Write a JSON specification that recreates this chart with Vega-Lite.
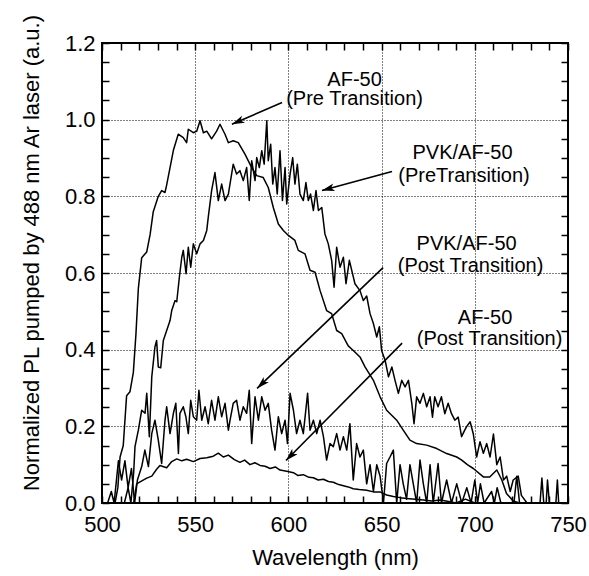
{
  "$schema": "https://vega.github.io/schema/vega-lite/v6.json",
  "width": 466,
  "height": 460,
  "autosize": "none",
  "padding": {"left": 102, "top": 43, "right": 21, "bottom": 73},
  "background": "white",
  "config": {
    "view": {"stroke": "black", "strokeWidth": 2},
    "font": "Liberation Sans",
    "axis": {
      "domain": false,
      "labelFont": "Liberation Sans",
      "labelFontSize": 22,
      "labelColor": "black",
      "titleFont": "Liberation Sans",
      "titleFontSize": 22,
      "titleFontWeight": "normal",
      "titleColor": "black",
      "tickColor": "black",
      "tickWidth": 1.5,
      "gridColor": "black",
      "gridDash": [1, 2],
      "gridWidth": 1
    }
  },
  "datasets": {
    "curves": [
      {"s":"a","wl":505,"v":0},{"s":"a","wl":507,"v":0.0},{"s":"a","wl":508.5,"v":0.04},{"s":"a","wl":509.7,"v":0.12},{"s":"a","wl":511.4,"v":0.15},{"s":"a","wl":513.2,"v":0.28},{"s":"a","wl":515,"v":0.29},{"s":"a","wl":516.8,"v":0.34},{"s":"a","wl":518.2,"v":0.44},{"s":"a","wl":519.5,"v":0.56},{"s":"a","wl":521.3,"v":0.64},{"s":"a","wl":524,"v":0.655},{"s":"a","wl":525.8,"v":0.70},{"s":"a","wl":527.5,"v":0.76},{"s":"a","wl":530.2,"v":0.80},{"s":"a","wl":532,"v":0.815},{"s":"a","wl":533.8,"v":0.81},{"s":"a","wl":534.7,"v":0.83},{"s":"a","wl":536.5,"v":0.875},{"s":"a","wl":538.3,"v":0.92},{"s":"a","wl":540.9,"v":0.962},{"s":"a","wl":543.6,"v":0.953},{"s":"a","wl":545.4,"v":0.94},{"s":"a","wl":546.3,"v":0.975},{"s":"a","wl":549,"v":0.966},{"s":"a","wl":550.8,"v":0.97},{"s":"a","wl":552.6,"v":0.997},{"s":"a","wl":554.4,"v":0.966},{"s":"a","wl":556.2,"v":0.97},{"s":"a","wl":558.8,"v":0.95},{"s":"a","wl":561.5,"v":0.97},{"s":"a","wl":563.3,"v":0.988},{"s":"a","wl":566,"v":0.962},{"s":"a","wl":567.8,"v":0.94},{"s":"a","wl":570.4,"v":0.945},{"s":"a","wl":573.1,"v":0.94},{"s":"a","wl":576.7,"v":0.91},{"s":"a","wl":580.3,"v":0.875},{"s":"a","wl":583,"v":0.854},{"s":"a","wl":586.5,"v":0.849},{"s":"a","wl":589.2,"v":0.823},{"s":"a","wl":591.9,"v":0.771},{"s":"a","wl":594.6,"v":0.728},{"s":"a","wl":597.3,"v":0.711},{"s":"a","wl":600,"v":0.698},{"s":"a","wl":603.5,"v":0.685},{"s":"a","wl":605.3,"v":0.659},{"s":"a","wl":608.9,"v":0.65},{"s":"a","wl":611.6,"v":0.607},{"s":"a","wl":614.3,"v":0.602},{"s":"a","wl":617,"v":0.554},{"s":"a","wl":620.5,"v":0.502},{"s":"a","wl":623.2,"v":0.494},{"s":"a","wl":625.9,"v":0.45},{"s":"a","wl":628.6,"v":0.442},{"s":"a","wl":632.1,"v":0.41},{"s":"a","wl":634.8,"v":0.398},{"s":"a","wl":638.4,"v":0.381},{"s":"a","wl":641.1,"v":0.355},{"s":"a","wl":645.6,"v":0.32},{"s":"a","wl":649.2,"v":0.277},{"s":"a","wl":652.7,"v":0.242},{"s":"a","wl":658.1,"v":0.216},{"s":"a","wl":661.6,"v":0.19},{"s":"a","wl":665.2,"v":0.164},{"s":"a","wl":668.8,"v":0.155},{"s":"a","wl":674.2,"v":0.151},{"s":"a","wl":679.6,"v":0.142},{"s":"a","wl":684.9,"v":0.129},{"s":"a","wl":690.3,"v":0.12},{"s":"a","wl":693,"v":0.112},{"s":"a","wl":696,"v":0.1},{"s":"a","wl":699.2,"v":0.09},{"s":"a","wl":704.6,"v":0.068},{"s":"a","wl":708,"v":0.068},{"s":"a","wl":711.8,"v":0.086},{"s":"a","wl":714.5,"v":0.06},{"s":"a","wl":717,"v":0.025},{"s":"a","wl":720.6,"v":0.005},{"s":"a","wl":724,"v":0.0},
      {"s":"b","wl":512,"v":0},{"s":"b","wl":514,"v":0.04},{"s":"b","wl":515.5,"v":0.0},{"s":"b","wl":517,"v":0.08},{"s":"b","wl":517.7,"v":0.147},{"s":"b","wl":519.5,"v":0.19},{"s":"b","wl":521.3,"v":0.242},{"s":"b","wl":523.1,"v":0.234},{"s":"b","wl":524,"v":0.286},{"s":"b","wl":525.4,"v":0.173},{"s":"b","wl":526.7,"v":0.329},{"s":"b","wl":528.4,"v":0.407},{"s":"b","wl":529.3,"v":0.424},{"s":"b","wl":530.2,"v":0.355},{"s":"b","wl":531.5,"v":0.353},{"s":"b","wl":532.9,"v":0.424},{"s":"b","wl":534.7,"v":0.45},{"s":"b","wl":536.5,"v":0.476},{"s":"b","wl":537.4,"v":0.502},{"s":"b","wl":539.2,"v":0.528},{"s":"b","wl":540.1,"v":0.525},{"s":"b","wl":541.5,"v":0.589},{"s":"b","wl":542.8,"v":0.641},{"s":"b","wl":543.6,"v":0.659},{"s":"b","wl":545.1,"v":0.598},{"s":"b","wl":546.3,"v":0.667},{"s":"b","wl":547.6,"v":0.615},{"s":"b","wl":549,"v":0.676},{"s":"b","wl":550.8,"v":0.65},{"s":"b","wl":552.6,"v":0.676},{"s":"b","wl":554.4,"v":0.685},{"s":"b","wl":556.2,"v":0.711},{"s":"b","wl":557,"v":0.745},{"s":"b","wl":558.8,"v":0.815},{"s":"b","wl":560.6,"v":0.862},{"s":"b","wl":562.4,"v":0.789},{"s":"b","wl":564.2,"v":0.832},{"s":"b","wl":566,"v":0.789},{"s":"b","wl":567.8,"v":0.806},{"s":"b","wl":570.4,"v":0.884},{"s":"b","wl":572.2,"v":0.858},{"s":"b","wl":574,"v":0.867},{"s":"b","wl":575.8,"v":0.841},{"s":"b","wl":577.6,"v":0.875},{"s":"b","wl":579,"v":0.789},{"s":"b","wl":580.3,"v":0.893},{"s":"b","wl":582.1,"v":0.841},{"s":"b","wl":583,"v":0.901},{"s":"b","wl":584.4,"v":0.875},{"s":"b","wl":585.7,"v":0.919},{"s":"b","wl":587,"v":0.884},{"s":"b","wl":588.4,"v":0.997},{"s":"b","wl":589.2,"v":0.893},{"s":"b","wl":590.5,"v":0.936},{"s":"b","wl":591.6,"v":0.832},{"s":"b","wl":592.8,"v":0.875},{"s":"b","wl":594,"v":0.806},{"s":"b","wl":595.5,"v":0.919},{"s":"b","wl":596.8,"v":0.789},{"s":"b","wl":598.2,"v":0.875},{"s":"b","wl":599.1,"v":0.78},{"s":"b","wl":600.9,"v":0.858},{"s":"b","wl":602.3,"v":0.901},{"s":"b","wl":603.5,"v":0.832},{"s":"b","wl":604.8,"v":0.884},{"s":"b","wl":606.2,"v":0.806},{"s":"b","wl":608,"v":0.789},{"s":"b","wl":609.4,"v":0.836},{"s":"b","wl":610.7,"v":0.789},{"s":"b","wl":611.9,"v":0.806},{"s":"b","wl":613.4,"v":0.763},{"s":"b","wl":614.8,"v":0.815},{"s":"b","wl":616.1,"v":0.763},{"s":"b","wl":617.9,"v":0.771},{"s":"b","wl":619.6,"v":0.702},{"s":"b","wl":621.4,"v":0.676},{"s":"b","wl":623.2,"v":0.633},{"s":"b","wl":624.5,"v":0.563},{"s":"b","wl":625.9,"v":0.667},{"s":"b","wl":627.7,"v":0.615},{"s":"b","wl":629.5,"v":0.641},{"s":"b","wl":630.9,"v":0.572},{"s":"b","wl":632.7,"v":0.633},{"s":"b","wl":635.7,"v":0.572},{"s":"b","wl":638.4,"v":0.554},{"s":"b","wl":640.2,"v":0.528},{"s":"b","wl":642,"v":0.54},{"s":"b","wl":643.8,"v":0.494},{"s":"b","wl":645.6,"v":0.468},{"s":"b","wl":647.4,"v":0.433},{"s":"b","wl":648.8,"v":0.46},{"s":"b","wl":650,"v":0.398},{"s":"b","wl":651.9,"v":0.372},{"s":"b","wl":653.7,"v":0.329},{"s":"b","wl":655.5,"v":0.355},{"s":"b","wl":657.2,"v":0.32},{"s":"b","wl":659,"v":0.286},{"s":"b","wl":660.8,"v":0.32},{"s":"b","wl":662.6,"v":0.303},{"s":"b","wl":664.4,"v":0.32},{"s":"b","wl":666.2,"v":0.26},{"s":"b","wl":667.4,"v":0.207},{"s":"b","wl":668.8,"v":0.277},{"s":"b","wl":670.6,"v":0.26},{"s":"b","wl":672.4,"v":0.286},{"s":"b","wl":674.2,"v":0.251},{"s":"b","wl":676,"v":0.277},{"s":"b","wl":677.3,"v":0.224},{"s":"b","wl":678.5,"v":0.277},{"s":"b","wl":680.3,"v":0.251},{"s":"b","wl":682.1,"v":0.277},{"s":"b","wl":683.9,"v":0.233},{"s":"b","wl":685.7,"v":0.26},{"s":"b","wl":687.5,"v":0.233},{"s":"b","wl":689.3,"v":0.216},{"s":"b","wl":691.1,"v":0.224},{"s":"b","wl":692.9,"v":0.173},{"s":"b","wl":694.6,"v":0.19},{"s":"b","wl":695.7,"v":0.2},{"s":"b","wl":697.5,"v":0.212},{"s":"b","wl":699.2,"v":0.18},{"s":"b","wl":701,"v":0.12},{"s":"b","wl":702.8,"v":0.16},{"s":"b","wl":704.6,"v":0.13},{"s":"b","wl":706.4,"v":0.155},{"s":"b","wl":708.2,"v":0.12},{"s":"b","wl":710,"v":0.18},{"s":"b","wl":711.8,"v":0.1},{"s":"b","wl":713.6,"v":0.12},{"s":"b","wl":715.4,"v":0.06},{"s":"b","wl":717.1,"v":0.07},{"s":"b","wl":719,"v":0.03},{"s":"b","wl":720.6,"v":0.06},{"s":"b","wl":723.3,"v":0.07},{"s":"b","wl":725,"v":0.02},{"s":"b","wl":728,"v":0.0},
      {"s":"c","wl":503,"v":0},{"s":"c","wl":505,"v":0.03},{"s":"c","wl":506.5,"v":0.0},{"s":"c","wl":508.8,"v":0.11},{"s":"c","wl":510.5,"v":0.06},{"s":"c","wl":512.3,"v":0.11},{"s":"c","wl":514,"v":0.04},{"s":"c","wl":515.8,"v":0.09},{"s":"c","wl":517.5,"v":0.0},{"s":"c","wl":519,"v":0.06},{"s":"c","wl":521.3,"v":0.095},{"s":"c","wl":523,"v":0.138},{"s":"c","wl":524.9,"v":0.095},{"s":"c","wl":526.7,"v":0.181},{"s":"c","wl":528.4,"v":0.216},{"s":"c","wl":530.2,"v":0.164},{"s":"c","wl":532,"v":0.103},{"s":"c","wl":533.8,"v":0.216},{"s":"c","wl":534.7,"v":0.251},{"s":"c","wl":536.5,"v":0.181},{"s":"c","wl":538.3,"v":0.234},{"s":"c","wl":539.6,"v":0.26},{"s":"c","wl":541,"v":0.129},{"s":"c","wl":541.8,"v":0.234},{"s":"c","wl":543.6,"v":0.251},{"s":"c","wl":545,"v":0.225},{"s":"c","wl":546.3,"v":0.181},{"s":"c","wl":547.6,"v":0.268},{"s":"c","wl":549,"v":0.225},{"s":"c","wl":550.8,"v":0.216},{"s":"c","wl":552,"v":0.294},{"s":"c","wl":553.5,"v":0.216},{"s":"c","wl":555.3,"v":0.251},{"s":"c","wl":557,"v":0.207},{"s":"c","wl":558.8,"v":0.268},{"s":"c","wl":560.6,"v":0.216},{"s":"c","wl":562.4,"v":0.277},{"s":"c","wl":564.2,"v":0.225},{"s":"c","wl":566,"v":0.26},{"s":"c","wl":567.8,"v":0.19},{"s":"c","wl":568.7,"v":0.216},{"s":"c","wl":570.4,"v":0.26},{"s":"c","wl":572.2,"v":0.268},{"s":"c","wl":574,"v":0.216},{"s":"c","wl":575.8,"v":0.251},{"s":"c","wl":577.6,"v":0.234},{"s":"c","wl":579,"v":0.294},{"s":"c","wl":580.3,"v":0.155},{"s":"c","wl":582.1,"v":0.277},{"s":"c","wl":583.9,"v":0.216},{"s":"c","wl":585.7,"v":0.277},{"s":"c","wl":587.5,"v":0.242},{"s":"c","wl":589.2,"v":0.26},{"s":"c","wl":591,"v":0.19},{"s":"c","wl":592.8,"v":0.138},{"s":"c","wl":594.6,"v":0.225},{"s":"c","wl":596.4,"v":0.181},{"s":"c","wl":598.2,"v":0.216},{"s":"c","wl":599.5,"v":0.155},{"s":"c","wl":600.9,"v":0.286},{"s":"c","wl":602.7,"v":0.242},{"s":"c","wl":604.4,"v":0.181},{"s":"c","wl":606.2,"v":0.216},{"s":"c","wl":608,"v":0.181},{"s":"c","wl":610.3,"v":0.286},{"s":"c","wl":611.6,"v":0.19},{"s":"c","wl":613.4,"v":0.216},{"s":"c","wl":615.2,"v":0.181},{"s":"c","wl":617,"v":0.216},{"s":"c","wl":618.8,"v":0.173},{"s":"c","wl":620.5,"v":0.112},{"s":"c","wl":622.3,"v":0.155},{"s":"c","wl":624.1,"v":0.147},{"s":"c","wl":625.9,"v":0.181},{"s":"c","wl":627.7,"v":0.138},{"s":"c","wl":629.5,"v":0.173},{"s":"c","wl":631.3,"v":0.138},{"s":"c","wl":633,"v":0.207},{"s":"c","wl":634.8,"v":0.06},{"s":"c","wl":636.6,"v":0.155},{"s":"c","wl":638.4,"v":0.12},{"s":"c","wl":640.2,"v":0.138},{"s":"c","wl":642,"v":0.05},{"s":"c","wl":643.8,"v":0.1},{"s":"c","wl":645.6,"v":0.03},{"s":"c","wl":647.4,"v":0.1},{"s":"c","wl":649.2,"v":0.07},{"s":"c","wl":651,"v":0.0},{"s":"c","wl":652.7,"v":0.103},{"s":"c","wl":654.5,"v":0.12},{"s":"c","wl":656.3,"v":0.138},{"s":"c","wl":658.1,"v":0.0},{"s":"c","wl":659.9,"v":0.1},{"s":"c","wl":661.6,"v":0.05},{"s":"c","wl":663.4,"v":0.01},{"s":"c","wl":665.2,"v":0.1},{"s":"c","wl":667,"v":0.05},{"s":"c","wl":668.8,"v":0.0},{"s":"c","wl":670.6,"v":0.112},{"s":"c","wl":672.4,"v":0.05},{"s":"c","wl":674.2,"v":0.0},{"s":"c","wl":676,"v":0.1},{"s":"c","wl":677.7,"v":0.0},{"s":"c","wl":680.3,"v":0.103},{"s":"c","wl":682.1,"v":0.0},{"s":"c","wl":684.9,"v":0.06},{"s":"c","wl":687.5,"v":0.0},{"s":"c","wl":690.3,"v":0.05},{"s":"c","wl":693,"v":0.0},{"s":"c","wl":695.7,"v":0.04},{"s":"c","wl":698,"v":0.0},{"s":"c","wl":700,"v":0.06},{"s":"c","wl":701.5,"v":0.0},{"s":"c","wl":703,"v":0.05},{"s":"c","wl":705,"v":0.0},{"s":"c","wl":709,"v":0.03},{"s":"c","wl":710.5,"v":0.0},{"s":"c","wl":712,"v":0.04},{"s":"c","wl":714,"v":0.0},{"s":"c","wl":721,"v":0.0},{"s":"c","wl":722.5,"v":0.07},{"s":"c","wl":724,"v":0.0},{"s":"c","wl":735,"v":0.0},{"s":"c","wl":736,"v":0.065},{"s":"c","wl":737,"v":0.0},{"s":"c","wl":738.3,"v":0.0},{"s":"c","wl":739,"v":0.06},{"s":"c","wl":740,"v":0.0},{"s":"c","wl":743.5,"v":0.0},{"s":"c","wl":744.3,"v":0.06},{"s":"c","wl":745,"v":0.0},{"s":"c","wl":750,"v":0.0},
      {"s":"d","wl":515,"v":0},{"s":"d","wl":517,"v":0.0},{"s":"d","wl":518.6,"v":0.05},{"s":"d","wl":520.4,"v":0.055},{"s":"d","wl":524,"v":0.065},{"s":"d","wl":526.7,"v":0.07},{"s":"d","wl":529.3,"v":0.088},{"s":"d","wl":531.1,"v":0.098},{"s":"d","wl":534.7,"v":0.092},{"s":"d","wl":537.4,"v":0.108},{"s":"d","wl":540.1,"v":0.115},{"s":"d","wl":542.8,"v":0.11},{"s":"d","wl":545.4,"v":0.114},{"s":"d","wl":549,"v":0.108},{"s":"d","wl":552.6,"v":0.116},{"s":"d","wl":556.2,"v":0.118},{"s":"d","wl":559.7,"v":0.122},{"s":"d","wl":562.4,"v":0.13},{"s":"d","wl":565.1,"v":0.12},{"s":"d","wl":567.8,"v":0.125},{"s":"d","wl":571,"v":0.113},{"s":"d","wl":574,"v":0.106},{"s":"d","wl":576.5,"v":0.112},{"s":"d","wl":579.4,"v":0.1},{"s":"d","wl":582,"v":0.105},{"s":"d","wl":584.8,"v":0.098},{"s":"d","wl":587.5,"v":0.096},{"s":"d","wl":590.2,"v":0.09},{"s":"d","wl":593,"v":0.094},{"s":"d","wl":595.5,"v":0.086},{"s":"d","wl":599.1,"v":0.083},{"s":"d","wl":602.7,"v":0.079},{"s":"d","wl":605,"v":0.072},{"s":"d","wl":608,"v":0.074},{"s":"d","wl":611,"v":0.067},{"s":"d","wl":613.4,"v":0.066},{"s":"d","wl":616,"v":0.06},{"s":"d","wl":618.8,"v":0.062},{"s":"d","wl":621.5,"v":0.056},{"s":"d","wl":624.1,"v":0.054},{"s":"d","wl":627,"v":0.048},{"s":"d","wl":629.5,"v":0.045},{"s":"d","wl":632.1,"v":0.042},{"s":"d","wl":634.8,"v":0.037},{"s":"d","wl":638,"v":0.035},{"s":"d","wl":642,"v":0.033},{"s":"d","wl":645.6,"v":0.029},{"s":"d","wl":649.2,"v":0.029},{"s":"d","wl":652.7,"v":0.021},{"s":"d","wl":656.3,"v":0.017},{"s":"d","wl":660,"v":0.014},{"s":"d","wl":663.4,"v":0.012},{"s":"d","wl":668,"v":0.01},{"s":"d","wl":672.4,"v":0.008},{"s":"d","wl":677,"v":0.005},{"s":"d","wl":681.4,"v":0.008},{"s":"d","wl":686,"v":0.004},{"s":"d","wl":690,"v":0.0},{"s":"d","wl":695,"v":0.01},{"s":"d","wl":700,"v":0.0}
    ],
    "labels": [
      {"wl": 635.5, "v": 1.089, "t": "AF-50"},
      {"wl": 635.5, "v": 1.037, "t": "(Pre Transition)"},
      {"wl": 693.4, "v": 0.898, "t": "PVK/AF-50"},
      {"wl": 694.2, "v": 0.838, "t": "(PreTransition)"},
      {"wl": 695.6, "v": 0.660, "t": "PVK/AF-50"},
      {"wl": 697.7, "v": 0.603, "t": "(Post Transition)"},
      {"wl": 705.5, "v": 0.467, "t": "AF-50"},
      {"wl": 707.9, "v": 0.413, "t": "(Post Transition)"}
    ],
    "arrows": [
      {"wl": 596.6, "v": 1.045, "wl2": 569.7, "v2": 0.988, "angle": 156.3},
      {"wl": 655.6, "v": 0.865, "wl2": 618.0, "v2": 0.815, "angle": 164.8},
      {"wl": 650.8, "v": 0.614, "wl2": 583.2, "v2": 0.299, "angle": 136.2},
      {"wl": 661.0, "v": 0.417, "wl2": 598.7, "v2": 0.111, "angle": 134.8}
    ]
  },
  "resolve": {"axis": {"x": "independent", "y": "independent"}},
  "layer": [
    {
      "data": {"name": "curves"},
      "mark": {"type": "line", "color": "black", "strokeWidth": 1.5, "strokeJoin": "round"},
      "encoding": {
        "x": {
          "field": "wl", "type": "quantitative",
          "scale": {"domain": [500, 750], "nice": false, "zero": false},
          "axis": {
            "orient": "bottom",
            "title": "Wavelength (nm)",
            "titleX": 233, "titleY": 61, "titleAlign": "center", "titleBaseline": "alphabetic",
            "values": [500,550,600,650,700,750],
            "ticks": false,
            "labelPadding": 11,
            "labelFlush": false,
            "labelOverlap": false,
            "grid": true
          }
        },
        "y": {
          "field": "v", "type": "quantitative",
          "scale": {"domain": [0, 1.2], "nice": false, "zero": false},
          "axis": {
            "orient": "left",
            "title": "Normalized PL pumped by 488 nm Ar laser (a.u.)",
            "titleAngle": 270, "titleX": -71, "titleY": 209.5, "titleAlign": "center", "titleBaseline": "middle",
            "values": [0,0.2,0.4,0.6,0.8,1.0,1.2],
            "format": ".1f",
            "ticks": false,
            "labelPadding": 7,
            "labelFlush": false,
            "labelOverlap": false,
            "grid": true
          }
        },
        "detail": {"field": "s"}
      }
    },
    {
      "data": {"name": "labels"},
      "mark": {"type": "text", "font": "Liberation Sans", "fontSize": 20, "color": "black", "align": "center", "baseline": "alphabetic"},
      "encoding": {
        "x": {
          "field": "wl", "type": "quantitative",
          "scale": {"domain": [500, 750], "nice": false, "zero": false},
          "axis": {"orient": "top", "title": null, "labels": false, "grid": false, "ticks": true, "tickSize": -7, "tickCount": 25}
        },
        "y": {
          "field": "v", "type": "quantitative",
          "scale": {"domain": [0, 1.2], "nice": false, "zero": false},
          "axis": {"orient": "right", "title": null, "labels": false, "grid": false, "ticks": true, "tickSize": -7, "tickCount": 24}
        },
        "text": {"field": "t"}
      }
    },
    {
      "data": {"name": "arrows"},
      "mark": {"type": "rule", "color": "black", "strokeWidth": 1.6},
      "encoding": {
        "x": {
          "field": "wl", "type": "quantitative",
          "scale": {"domain": [500, 750], "nice": false, "zero": false},
          "axis": {"orient": "bottom", "title": null, "labels": false, "grid": false, "ticks": true, "tickSize": -7, "tickCount": 25}
        },
        "y": {
          "field": "v", "type": "quantitative",
          "scale": {"domain": [0, 1.2], "nice": false, "zero": false},
          "axis": {"orient": "left", "title": null, "labels": false, "grid": false, "ticks": true, "tickSize": -7, "tickCount": 24}
        },
        "x2": {"field": "wl2"},
        "y2": {"field": "v2"}
      }
    },
    {
      "data": {"name": "arrows"},
      "mark": {"type": "point", "shape": "M0,0L-2,-0.6L-1.5,0L-2,0.6Z", "filled": true, "color": "black", "opacity": 1, "size": 160, "strokeWidth": 0},
      "encoding": {
        "x": {"field": "wl2", "type": "quantitative", "scale": {"domain": [500, 750], "nice": false, "zero": false}, "axis": null},
        "y": {"field": "v2", "type": "quantitative", "scale": {"domain": [0, 1.2], "nice": false, "zero": false}, "axis": null},
        "angle": {"field": "angle", "type": "quantitative", "scale": null}
      }
    }
  ]
}
